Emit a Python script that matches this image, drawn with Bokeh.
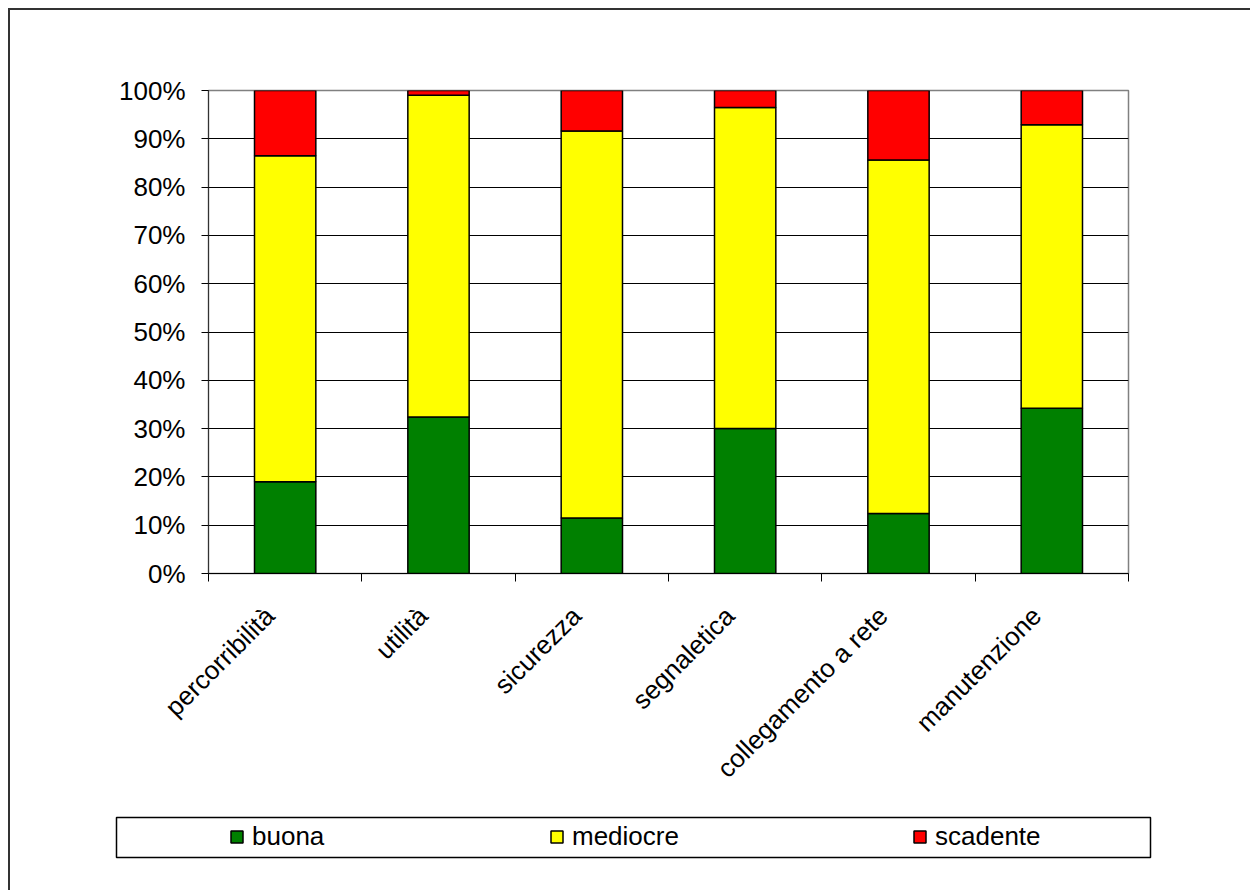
from bokeh.plotting import figure
from bokeh.models import (ColumnDataSource, FixedTicker, Range1d, Legend, LegendItem,
                          PrintfTickFormatter)
from bokeh.layouts import column
from bokeh.embed import file_html
from bokeh.resources import INLINE
import math

categories = ["percorribilità", "utilità", "sicurezza", "segnaletica",
              "collegamento a rete", "manutenzione"]
series = ["buona", "mediocre", "scadente"]
buona = [19.0, 32.4, 11.5, 30.0, 12.4, 34.2]
mediocre = [67.5, 66.6, 80.1, 66.5, 73.2, 58.7]
scadente = [13.5, 1.0, 8.4, 3.5, 14.4, 7.1]
colors = ["#008000", "#FFFF00", "#FF0000"]
y_ticks = [0, 10, 20, 30, 40, 50, 60, 70, 80, 90, 100]

FONT = "Liberation Sans"
FS = "26px"

xpos = [i + 0.5 for i in range(len(categories))]
label_pos = [x - 0.1 for x in xpos]
source = ColumnDataSource(dict(x=xpos, buona=buona, mediocre=mediocre, scadente=scadente))

p = figure(width=1240, height=800, output_backend="svg", toolbar_location=None,
           x_range=Range1d(0, len(categories)), y_range=Range1d(0, 100),
           min_border_left=198, min_border_right=122, min_border_top=80,
           min_border_bottom=237)
p.frame_align = False

renderers = p.vbar_stack(series, x="x", width=0.4, source=source, color=colors,
                         line_color="black", line_width=1.5)

# axes
p.xaxis.ticker = FixedTicker(ticks=label_pos, minor_ticks=list(range(len(categories) + 1)))
p.xaxis.major_label_overrides = {x: c for x, c in zip(label_pos, categories)}
p.xaxis.major_tick_out = 0
p.xaxis.major_tick_in = 0
p.xaxis.minor_tick_out = 8
p.xaxis.minor_tick_in = 0
p.xaxis.minor_tick_line_color = "black"
p.xaxis.major_label_orientation = math.pi / 4
p.xaxis.major_label_standoff = 30
p.xaxis.axis_line_color = "black"

p.yaxis.ticker = FixedTicker(ticks=y_ticks)
p.yaxis.formatter = PrintfTickFormatter(format="%d%%")
p.yaxis.major_tick_out = 7
p.yaxis.major_tick_in = 0
p.yaxis.minor_tick_line_color = None
p.yaxis.major_label_standoff = 16
p.yaxis.axis_line_color = "#333333"

for ax in (p.xaxis, p.yaxis):
    ax.major_label_text_font = FONT
    ax.major_label_text_font_size = FS
    ax.major_label_text_color = "black"
    ax.major_tick_line_color = "black"

p.xgrid.grid_line_color = None
p.ygrid.ticker = FixedTicker(ticks=y_ticks)
p.ygrid.grid_line_color = "black"
p.ygrid.grid_line_width = 1
p.outline_line_color = "#808080"
p.outline_line_width = 1.5

# legend strip: its frame is the legend box
lg = figure(width=1240, height=80, output_backend="svg", toolbar_location=None,
            x_range=Range1d(0, len(categories)), y_range=Range1d(0, 100),
            x_axis_location=None, y_axis_location=None,
            min_border_left=106, min_border_right=100, min_border_top=7,
            min_border_bottom=33)
lg.frame_align = False
lg.xgrid.grid_line_color = None
lg.ygrid.grid_line_color = None
lg.outline_line_color = "black"
lg.outline_line_width = 1.5

leg_x = [113, 433, 796]
for name, col, lx in zip(series, colors, leg_x):
    r = lg.vbar(x="x", top=name, width=0.4, source=source, fill_color=col,
                line_color="black", line_width=1.5, visible=False)
    legend = Legend(items=[LegendItem(label=name, renderers=[r])], location=(lx, 5),
                    orientation="horizontal", padding=0, margin=0, spacing=0,
                    glyph_width=15, glyph_height=15, label_standoff=8,
                    label_height=30,
                    border_line_color=None, background_fill_alpha=0,
                    label_text_font=FONT, label_text_font_size=FS,
                    label_text_color="black")
    lg.add_layout(legend, "center")

layout = column(p, lg, spacing=0)
layout.styles = {"margin-left": "8px", "margin-top": "8px",
                 "border-left": "2px solid #333333", "border-top": "2px solid #333333"}

open("out.html", "w").write(file_html(layout, INLINE))
